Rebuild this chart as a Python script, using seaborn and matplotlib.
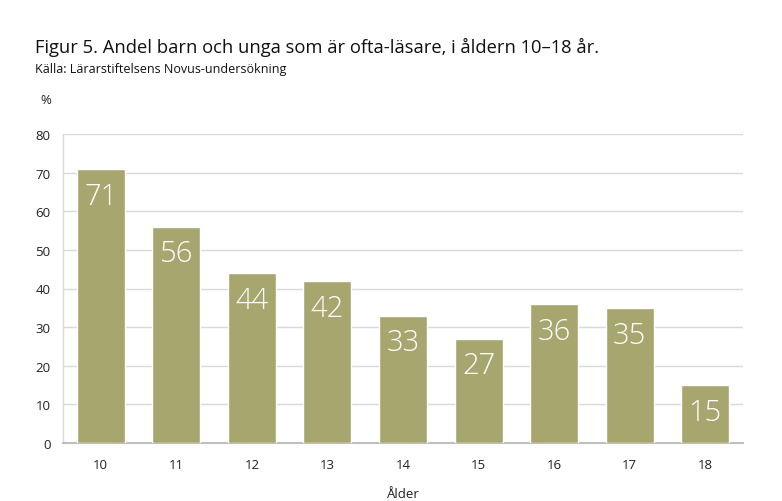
import matplotlib
matplotlib.use("Agg")
import matplotlib.pyplot as plt
import seaborn as sns
import pandas as pd

ages = ["10", "11", "12", "13", "14", "15", "16", "17", "18"]
values = [71, 56, 44, 42, 33, 27, 36, 35, 15]
yticks = [0, 10, 20, 30, 40, 50, 60, 70, 80]

title = "Figur 5. Andel barn och unga som är ofta-läsare, i åldern 10–18 år."
subtitle = "Källa: Lärarstiftelsens Novus-undersökning"

sns.set_theme(style="white")
plt.rcParams['font.family'] = ['Open Sans', 'DejaVu Sans']

df = pd.DataFrame({"Ålder": ages, "Andel": values})

fig = plt.figure(figsize=(7.82, 5.02), dpi=100)
ax = fig.add_axes([63/782, 58/502, 680/782, 309/502])

sns.barplot(data=df, x="Ålder", y="Andel", color="#a6a66e", width=0.635,
            saturation=1, ax=ax, zorder=3)

ax.set_ylim(0, 80)
ax.set_yticks(yticks)
ax.set_xlim(-0.5, len(ages) - 0.5)
ax.yaxis.grid(True, color="#d9d9d9", linewidth=1, zorder=0)
ax.set_axisbelow(True)
for s in ["top", "right"]:
    ax.spines[s].set_visible(False)
ax.spines["left"].set_color("#d9d9d9")
ax.spines["left"].set_linewidth(1)
ax.spines["bottom"].set_color("#bfbfbf")
ax.spines["bottom"].set_linewidth(1.5)
ax.tick_params(axis="both", length=0, labelsize=9.5, colors="#222222")
ax.tick_params(axis="x", pad=11)
ax.tick_params(axis="y", pad=9)
ax.set_ylabel("")
ax.set_xlabel("Ålder", fontsize=9.5, color="#222222", labelpad=11)

for p, v in zip(ax.patches, values):
    ax.annotate(str(v), (p.get_x() + p.get_width() / 2, v),
                xytext=(0, -27), textcoords="offset pixels",
                ha="center", va="center", color="white", fontsize=21,
                fontweight="light")

fig.text(35/782, 1 - 47/502, title, fontsize=13.25, color="#111111", va="center", ha="left")
fig.text(35/782, 1 - 70/502, subtitle, fontsize=9, color="#111111", va="center", ha="left")
fig.text(40/782, 1 - 101/502, "%", fontsize=9.5, color="#222222", va="center", ha="left")

fig.savefig("out.png", dpi=100)
